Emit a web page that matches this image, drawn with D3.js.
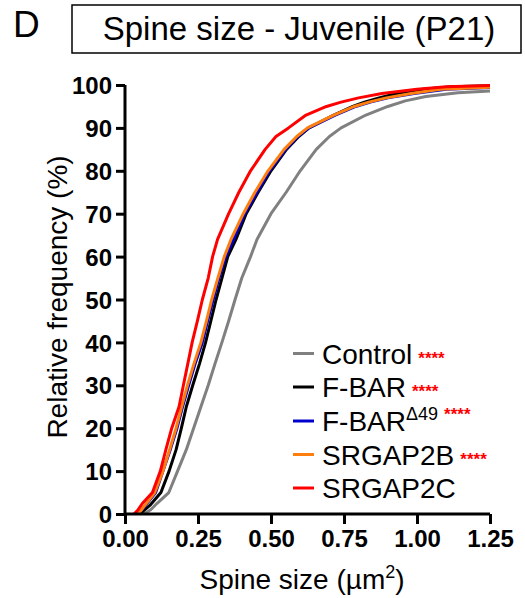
<!DOCTYPE html>
<html>
<head>
<meta charset="utf-8">
<script src="https://cdn.jsdelivr.net/npm/d3@7"></script>
<style>
  body { margin: 0; background: #fff; }
  svg { display: block; font-family: "Liberation Sans", Arial, sans-serif; }
</style>
</head>
<body>
<svg id="chart" width="525" height="598"></svg>
<script>
// cumulative distributions: [spine size (um2), relative frequency (%)]
var controlPts = [[0.065,0],[0.088,1],[0.11,2.5],[0.15,5],[0.18,10],[0.21,15],[0.235,20],[0.26,25],[0.285,30],[0.308,35],[0.332,40],[0.355,45],[0.377,50],[0.4,55],[0.43,60],[0.452,64],[0.5,70],[0.552,75],[0.6,80],[0.655,85],[0.7,88],[0.74,90],[0.825,93],[0.9,95],[0.96,96.3],[1.03,97.3],[1.14,98.2],[1.25,98.6]];
var fbarPts = [[0.05,0],[0.085,2],[0.123,5],[0.151,10],[0.175,15],[0.193,20],[0.21,25],[0.232,30],[0.255,35],[0.276,40],[0.294,45],[0.312,50],[0.332,55],[0.352,60],[0.38,64],[0.415,70],[0.456,75],[0.5,80],[0.553,85],[0.595,88],[0.63,90],[0.715,93],[0.78,95],[0.82,96],[0.87,97],[0.93,98],[1.02,99],[1.12,99.6],[1.25,99.8]];
var fbarD49Pts = [[0.045,0],[0.07,2],[0.105,5],[0.13,10],[0.155,15],[0.178,20],[0.197,25],[0.218,30],[0.24,35],[0.265,40],[0.283,45],[0.302,50],[0.322,55],[0.345,60],[0.372,64],[0.41,70],[0.452,75],[0.495,80],[0.55,85],[0.592,88],[0.63,90],[0.72,93],[0.79,95],[0.84,96],[0.9,97],[0.99,98],[1.1,99],[1.25,99.4]];
var srgap2bPts = [[0.045,0],[0.068,2],[0.102,5],[0.13,10],[0.153,15],[0.175,20],[0.194,25],[0.214,30],[0.236,35],[0.26,40],[0.279,45],[0.297,50],[0.318,55],[0.34,60],[0.363,64],[0.405,70],[0.445,75],[0.49,80],[0.545,85],[0.588,88],[0.625,90],[0.715,93],[0.785,95],[0.835,96],[0.895,97],[0.98,98],[1.08,99],[1.25,99.5]];
var srgap2cPts = [[0.031,0],[0.045,1],[0.06,2.5],[0.094,5],[0.121,10],[0.14,15],[0.16,20],[0.185,25],[0.2,30],[0.215,35],[0.23,40],[0.248,45],[0.265,50],[0.285,55],[0.3,60],[0.317,64],[0.355,70],[0.39,75],[0.43,80],[0.48,85],[0.517,88],[0.56,90],[0.62,93],[0.69,95],[0.74,96],[0.8,97],[0.88,98],[1.0,99],[1.1,99.6],[1.25,99.9]];

var seriesNames = ["Control", "F-BAR", "F-BAR", "SRGAP2B", "SRGAP2C"];
var seriesSup = ["", "", "\u039449", "", ""];
var seriesStars = ["****", "****", "****", "****", ""];
var seriesColors = ["#808080", "#000000", "#0000cc", "#ff7f0e", "#ff0000"];
var seriesData = [controlPts, fbarPts, fbarD49Pts, srgap2bPts, srgap2cPts];

var xTicks = [0, 0.25, 0.5, 0.75, 1.0, 1.25];
var yTicks = [0, 10, 20, 30, 40, 50, 60, 70, 80, 90, 100];

var svg = d3.select('#chart');

var xRange = d3.scaleLinear().domain([0, 1.25]).range([125, 490]);
var yRange = d3.scaleLinear().domain([0, 100]).range([514, 85]);

// panel letter and boxed title
svg.append("text")
    .attr("x", 13).attr("y", 37)
    .attr("font-size", "37px")
    .text("D");
svg.append("rect")
    .attr("x", 72).attr("y", 5)
    .attr("width", 449).attr("height", 48)
    .attr("fill", "none")
    .attr("stroke", "#000")
    .attr("stroke-width", 1.5);
svg.append("text")
    .attr("x", 299).attr("y", 40)
    .attr("text-anchor", "middle")
    .attr("font-size", "33px")
    .text("Spine size - Juvenile (P21)");

// curves
var lineFunc = d3.line()
    .x(function(d) { return xRange(d[0]); })
    .y(function(d) { return yRange(d[1]); });

for (var i = 0; i < seriesData.length; i++) {
    svg.append("path")
        .attr("d", lineFunc(seriesData[i]))
        .attr("fill", "none")
        .attr("stroke", seriesColors[i])
        .attr("stroke-width", 3)
        .attr("stroke-linejoin", "round");
}

// axes
var xAxis = d3.axisBottom(xRange)
    .tickValues(xTicks)
    .tickSize(10)
    .tickPadding(4)
    .tickFormat(d3.format(".2f"));
var yAxis = d3.axisLeft(yRange)
    .tickValues(yTicks)
    .tickSize(9)
    .tickPadding(4);

var gx = svg.append("g").attr("transform", "translate(0,514)").call(xAxis);
var gy = svg.append("g").attr("transform", "translate(125,0)").call(yAxis);

[gx, gy].forEach(function(g) {
    g.select(".domain").attr("stroke", "#000").attr("stroke-width", 3);
    g.selectAll(".tick line").attr("stroke", "#000").attr("stroke-width", 3);
    g.selectAll(".tick text")
        .attr("fill", "#000")
        .attr("font-family", "Liberation Sans, Arial, sans-serif")
        .attr("font-size", "24px")
        .attr("font-weight", "bold");
});
gx.select(".domain").attr("d", "M125,0H490");
gy.select(".domain").attr("d", "M0,514V85");
gx.selectAll(".tick text").attr("dy", "0.8em");
gy.selectAll(".tick text").attr("dy", "0.36em");

// axis titles
var xt = svg.append("text")
    .attr("x", 302).attr("y", 589)
    .attr("text-anchor", "middle")
    .attr("font-size", "28px");
xt.append("tspan").text("Spine size (\u00b5m");
xt.append("tspan").attr("font-size", "18px").attr("dy", "-11").text("2");
xt.append("tspan").attr("dy", "11").text(")");

svg.append("text")
    .attr("transform", "translate(67,297) rotate(-90)")
    .attr("text-anchor", "middle")
    .attr("font-size", "28px")
    .text("Relative frequency (%)");

// legend
var legendBase = [363.5, 397, 431, 464.5, 498];
for (var j = 0; j < seriesNames.length; j++) {
    var by = legendBase[j];
    svg.append("line")
        .attr("x1", 293).attr("x2", 314)
        .attr("y1", by - 10).attr("y2", by - 10)
        .attr("stroke", seriesColors[j])
        .attr("stroke-width", 3);
    var t = svg.append("text")
        .attr("x", 322).attr("y", by)
        .attr("font-size", "28px");
    t.append("tspan").text(seriesNames[j]);
    if (seriesSup[j]) {
        t.append("tspan").attr("font-size", "18px").attr("dy", "-11").text(seriesSup[j]);
        t.append("tspan").attr("dy", "11").text("");
    }
    if (seriesStars[j]) {
        t.append("tspan")
            .attr("font-size", "17px")
            .attr("font-weight", "bold")
            .attr("fill", "#ff0000")
            .attr("dx", 6)
            .text(seriesStars[j]);
    }
}
</script>
</body>
</html>
